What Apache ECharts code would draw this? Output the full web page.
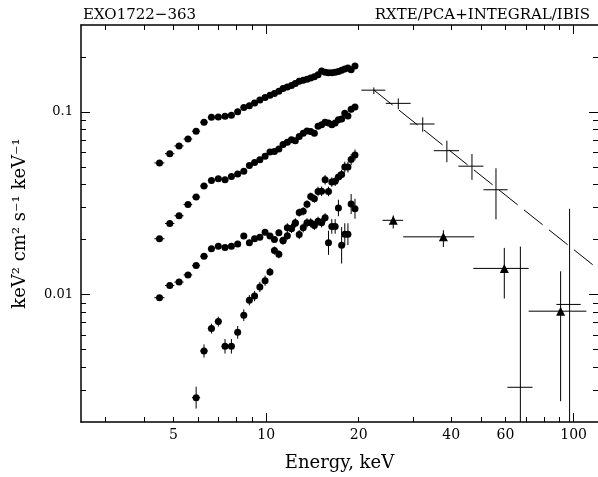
<!DOCTYPE html>
<html><head><meta charset="utf-8">
<script src="https://cdn.jsdelivr.net/npm/echarts@6/dist/echarts.min.js"></script>
<style>html,body{margin:0;padding:0;background:#fff}#c{width:598px;height:477px}</style>
</head><body><div id="c"></div>
<script>
// ---------- DATA ----------
const titleLeft = 'EXO1722\u2212363';
const titleRight = 'RXTE/PCA+INTEGRAL/IBIS';
const xName = 'Energy, keV';
const yName = 'keV\u00B2 cm\u00B2 s\u207B\u00B9 keV\u207B\u00B9';

// RXTE/PCA channel energies (keV) and half-widths
const pcaEnergy = [4.50,4.86,5.21,5.57,5.92,6.28,6.64,6.99,7.35,7.71,8.08,8.46,8.82,9.17,9.54,9.92,10.29,10.64,11.00,11.35,11.72,12.09,12.44,12.81,13.20,13.58,13.96,14.35,14.75,15.15,15.55,15.95,16.35,16.77,17.18,17.60,18.02,18.45,18.90,19.45];
const pcaHalfWidth = [0.17,0.17,0.18,0.18,0.18,0.18,0.18,0.18,0.18,0.18,0.19,0.19,0.19,0.19,0.19,0.19,0.19,0.19,0.19,0.19,0.19,0.19,0.19,0.2,0.2,0.2,0.2,0.2,0.2,0.2,0.2,0.2,0.21,0.21,0.21,0.21,0.21,0.21,0.22,0.22];

// PCA spectra (keV^2 cm^-2 s^-1 keV^-1)
const fluxHigh = [0.0526,0.0591,0.0652,0.0712,0.0785,0.0879,0.0935,0.0940,0.0947,0.0960,0.1005,0.1060,0.1082,0.1120,0.1164,0.1203,0.1235,0.1262,0.1300,0.1345,0.1372,0.1400,0.1435,0.1475,0.1495,0.1515,0.1535,0.1560,0.1600,0.1680,0.1655,0.1640,0.1640,0.1655,0.1670,0.1695,0.1720,0.1745,0.1705,0.1790];
const errHigh = [0.005,0.005,0.005,0.005,0.005,0.005,0.005,0.005,0.005,0.005,0.006,0.006,0.006,0.006,0.006,0.006,0.006,0.006,0.006,0.006,0.007,0.007,0.007,0.007,0.007,0.007,0.007,0.007,0.008,0.008,0.008,0.008,0.008,0.009,0.009,0.009,0.009,0.01,0.01,0.01];
const fluxMid = [0.0202,0.0245,0.0270,0.0311,0.0342,0.0393,0.0422,0.0431,0.0425,0.0443,0.0458,0.0474,0.0509,0.0529,0.0547,0.0573,0.0603,0.0607,0.0628,0.0663,0.0684,0.0704,0.0695,0.0734,0.0766,0.0788,0.0782,0.0766,0.0836,0.0853,0.0879,0.0871,0.0853,0.0871,0.0908,0.0916,0.0985,0.0950,0.1035,0.1065];
const errMid = [0.008,0.008,0.008,0.008,0.008,0.008,0.008,0.008,0.008,0.008,0.009,0.009,0.009,0.009,0.009,0.009,0.01,0.01,0.01,0.01,0.01,0.01,0.011,0.011,0.011,0.011,0.012,0.012,0.012,0.012,0.013,0.013,0.013,0.014,0.014,0.015,0.016,0.016,0.017,0.017];
const fluxLow = [0.0096,0.0112,0.0117,0.0128,0.0144,0.0162,0.0178,0.0184,0.0181,0.0184,0.0189,0.0209,0.0192,0.0202,0.0206,0.0219,0.0209,0.0200,0.0218,0.0198,0.0232,0.0230,0.0247,0.0213,0.0232,0.0247,0.0247,0.0239,0.0252,0.0247,0.0263,0.0192,0.0236,0.0236,0.0298,0.0186,0.0214,0.0214,0.0313,0.0295];
const errLow = [0.012,0.012,0.012,0.012,0.012,0.012,0.012,0.012,0.012,0.012,0.012,0.016,0.016,0.016,0.016,0.016,0.016,0.016,0.016,0.016,0.025,0.025,0.025,0.025,0.025,0.025,0.025,0.025,0.025,0.025,0.025,0.066,0.04,0.04,0.045,0.1,0.06,0.06,0.055,0.055];
const fluxRise = [null,null,null,null,0.00272,0.0049,0.0065,0.0071,0.0052,0.0052,0.0062,0.0077,0.0093,0.0098,0.0110,0.0119,0.0133,0.0174,0.0166,0.0197,0.0210,0.0230,0.0246,0.0281,0.0286,0.0312,0.0344,0.0335,0.0367,0.0368,0.0425,0.0367,0.0413,0.0417,0.0441,0.0455,0.0499,0.0499,0.0549,0.0582];
const errRise = [null,null,null,null,0.06,0.036,0.027,0.027,0.04,0.04,0.035,0.032,0.028,0.028,0.028,0.028,0.022,0.022,0.022,0.022,0.022,0.022,0.022,0.022,0.022,0.022,0.022,0.022,0.026,0.026,0.026,0.026,0.026,0.026,0.026,0.026,0.03,0.03,0.03,0.03];

// INTEGRAL/IBIS, bright state (crosses)
const ibisE    = [22.4, 26.9, 32.3, 38.7, 46.7, 55.9, 67.1, 97.0];
const ibisElo  = [20.4, 24.5, 29.3, 35.1, 42.2, 50.9, 60.9, 87.9];
const ibisEhi  = [24.4, 29.5, 35.3, 42.4, 50.9, 61.0, 73.5, 105.4];
const ibisF    = [0.1318, 0.1116, 0.0860, 0.0614, 0.0505, 0.0375, 0.0031, 0.00882];
const ibisFlo  = [0.1254, 0.1038, 0.0780, 0.0531, 0.0425, 0.0258, 0.0005, 0.0005];
const ibisFhi  = [0.1364, 0.1189, 0.0935, 0.0697, 0.0589, 0.0492, 0.0183, 0.0295];
// INTEGRAL/IBIS, faint state (triangles)
const ibis2E   = [25.9, 37.7, 59.5, 90.7];
const ibis2Elo = [23.9, 27.9, 47.2, 71.4];
const ibis2Ehi = [27.9, 47.5, 71.4, 110.0];
const ibis2F   = [0.0255, 0.0207, 0.0139, 0.0081];
const ibis2Flo = [0.0230, 0.0182, 0.0095, 0.0026];
const ibis2Fhi = [0.0271, 0.0225, 0.0180, 0.0134];
// model (power law) for bright state
const modelE = [22.4, 120];
const modelF = [0.132, 0.0138];

// axes
const xRange = [2.5, 120];
const yRange = [0.002, 0.3];
const xMajorTicks = [10, 100];
const xMinorTicks = [3,4,5,6,7,8,9,20,30,40,50,60,70,80,90];
const xTickLabels = [5, 10, 20, 40, 60, 100];
const yMajorTicks = [0.01, 0.1];
const yMinorTicks = [0.003,0.004,0.005,0.006,0.007,0.008,0.009,0.02,0.03,0.04,0.05,0.06,0.07,0.08,0.09,0.2];
const yTickLabels = [0.01, 0.1];

// ---------- CHART ----------
const L = Math.log10;
const FONT = 'DejaVu Serif';
const BLACK = '#000';

function pcaPoints(flux) {
  const out = [];
  flux.forEach((f, i) => { if (f != null) out.push([L(pcaEnergy[i]), L(f)]); });
  return out;
}
function pcaErr(flux, err) {
  const out = [];
  flux.forEach((f, i) => {
    if (f == null) return;
    const e = pcaEnergy[i], h = pcaHalfWidth[i];
    out.push([L(e), L(f), L(e - h), L(e + h), L(f) - err[i], L(f) + err[i]]);
  });
  return out;
}
function ibisErr(E, Elo, Ehi, F, Flo, Fhi) {
  return E.map((e, i) => [L(e), L(F[i]), L(Elo[i]), L(Ehi[i]), L(Flo[i]), L(Fhi[i])]);
}

function errRender(params, api) {
  const c = api.coord([api.value(0), api.value(1)]);
  const xl = api.coord([api.value(2), api.value(1)]);
  const xh = api.coord([api.value(3), api.value(1)]);
  const yl = api.coord([api.value(0), api.value(4)]);
  const yh = api.coord([api.value(0), api.value(5)]);
  const st = { stroke: BLACK, lineWidth: 1 };
  return { type: 'group', children: [
    { type: 'line', shape: { x1: xl[0], y1: c[1], x2: xh[0], y2: c[1] }, style: st },
    { type: 'line', shape: { x1: c[0], y1: yl[1], x2: c[0], y2: yh[1] }, style: st }
  ]};
}
function errSeries(data) {
  return { type: 'custom', renderItem: errRender, data, clip: true, silent: true,
           encode: { x: [0, 2, 3], y: [1, 4, 5] }, z: 2 };
}
function dotSeries(data, symbol, size) {
  return { type: 'scatter', data, symbol, symbolSize: size, itemStyle: { color: BLACK, opacity: 1 },
           silent: true, z: 3 };
}

function xAx(pos, ticks, len, line, labels) {
  return {
    type: 'value', position: pos, min: L(xRange[0]), max: L(xRange[1]), gridIndex: 0,
    axisLine: { show: line, lineStyle: { color: BLACK, width: 1.5 } },
    axisTick: { show: true, inside: true, length: len, customValues: ticks.map(L), lineStyle: { color: BLACK, width: 1 } },
    axisLabel: labels ? {
      show: true, customValues: labels.map(L), margin: 6, color: BLACK, fontFamily: FONT, fontSize: 14,
      formatter: v => String(Math.round(Math.pow(10, v)))
    } : { show: false },
    splitLine: { show: false }
  };
}
function yAx(pos, ticks, len, line, labels) {
  return {
    type: 'value', position: pos, min: L(yRange[0]), max: L(yRange[1]), gridIndex: 0,
    axisLine: { show: line, lineStyle: { color: BLACK, width: 1.5 } },
    axisTick: { show: true, inside: true, length: len, customValues: ticks.map(L), lineStyle: { color: BLACK, width: 1 } },
    axisLabel: labels ? {
      show: true, customValues: labels.map(L), margin: 8, color: BLACK, fontFamily: FONT, fontSize: 13,
      formatter: v => String(Number(Math.pow(10, v).toPrecision(2)))
    } : { show: false },
    splitLine: { show: false }
  };
}

const xMain = xAx('bottom', xMajorTicks, 9, true, xTickLabels);
xMain.name = xName;
xMain.nameLocation = 'middle';
xMain.nameGap = 32;
xMain.nameTextStyle = { color: BLACK, fontFamily: FONT, fontSize: 18 };
const yMain = yAx('left', yMajorTicks, 9, true, yTickLabels);
yMain.name = yName;
yMain.nameLocation = 'middle';
yMain.nameGap = 52;
yMain.nameTextStyle = { color: BLACK, fontFamily: FONT, fontSize: 18 };

const chart = echarts.init(document.getElementById('c'), null, { renderer: 'canvas' });
chart.setOption({
  animation: false,
  backgroundColor: '#fff',
  title: [
    { text: titleLeft, left: 78, top: 3, textStyle: { color: BLACK, fontFamily: FONT, fontSize: 15, fontWeight: 'normal' } },
    { text: titleRight, right: 3, top: 3, textStyle: { color: BLACK, fontFamily: FONT, fontSize: 15, fontWeight: 'normal' } }
  ],
  grid: { left: 81, right: 0, top: 25, bottom: 53, containLabel: false },
  xAxis: [
    xMain,
    xAx('bottom', xMinorTicks, 5, false, null),
    xAx('top', xMajorTicks, 9, true, null),
    xAx('top', xMinorTicks, 5, false, null)
  ],
  yAxis: [
    yMain,
    yAx('left', yMinorTicks, 5, false, null),
    yAx('right', yMajorTicks, 9, false, null),
    yAx('right', yMinorTicks, 5, false, null)
  ],
  series: [
    errSeries(pcaErr(fluxHigh, errHigh)),
    errSeries(pcaErr(fluxMid, errMid)),
    errSeries(pcaErr(fluxLow, errLow)),
    errSeries(pcaErr(fluxRise, errRise)),
    dotSeries(pcaPoints(fluxHigh), 'circle', 7),
    dotSeries(pcaPoints(fluxMid), 'circle', 7),
    dotSeries(pcaPoints(fluxLow), 'circle', 7),
    dotSeries(pcaPoints(fluxRise), 'circle', 7),
    errSeries(ibisErr(ibisE, ibisElo, ibisEhi, ibisF, ibisFlo, ibisFhi)),
    errSeries(ibisErr(ibis2E, ibis2Elo, ibis2Ehi, ibis2F, ibis2Flo, ibis2Fhi)),
    dotSeries(ibis2E.map((e, i) => [L(e), L(ibis2F[i])]), 'triangle', 9),
    { type: 'line', data: modelE.map((e, i) => [L(e), L(modelF[i])]), showSymbol: false, silent: true,
      lineStyle: { color: BLACK, width: 1, type: [24, 8] }, z: 1 }
  ]
});
</script></body></html>
